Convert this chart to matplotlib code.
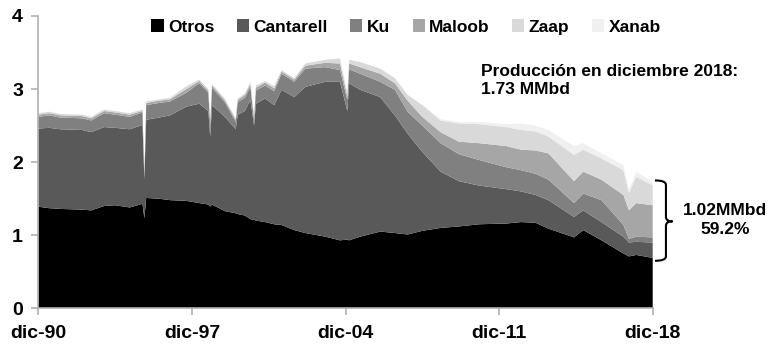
"""
Producción de petróleo por campo, dic-90 a dic-18 (MMbd)
"""

import matplotlib.pyplot as plt
from matplotlib.path import Path
from matplotlib.patches import PathPatch

# ============================================================================
# DATOS (MMbd)
# ============================================================================

fechas = ['1990-12', '1991-06', '1991-12', '1992-12', '1993-05', '1993-12',
          '1994-06', '1995-02', '1995-09', '1995-10', '1995-11', '1996-06',
          '1996-12', '1997-09', '1998-04', '1998-09', '1998-10', '1998-11',
          '1999-06', '1999-12', '2000-01', '2000-05', '2000-08', '2000-10',
          '2000-11', '2001-04', '2001-09', '2002-01', '2002-08', '2003-02',
          '2004-01', '2004-09', '2005-01', '2005-02', '2005-08', '2006-07',
          '2007-03', '2007-10', '2008-06', '2009-04', '2010-02', '2011-01',
          '2012-04', '2012-12', '2013-08', '2014-03', '2015-05', '2015-10',
          '2016-08', '2017-08', '2017-11', '2018-03', '2018-12']

otros = [1.39, 1.37, 1.36, 1.35, 1.34, 1.40, 1.41, 1.38, 1.43, 1.23, 1.51, 1.50,
         1.48, 1.47, 1.44, 1.42, 1.39, 1.42, 1.33, 1.30, 1.29, 1.27, 1.22, 1.21,
         1.20, 1.18, 1.15, 1.14, 1.07, 1.03, 0.98, 0.93, 0.94, 0.93, 0.98, 1.05,
         1.03, 1.01, 1.06, 1.10, 1.12, 1.15, 1.16, 1.18, 1.17, 1.09, 0.97, 1.07,
         0.93, 0.75, 0.71, 0.73, 0.69]

cantarell = [1.07, 1.10, 1.09, 1.09, 1.07, 1.08, 1.06, 1.07, 1.08, 0.54, 1.07, 1.11,
             1.16, 1.29, 1.36, 1.28, 0.96, 1.36, 1.29, 1.15, 1.36, 1.43, 1.63, 1.29,
             1.60, 1.69, 1.63, 1.85, 1.82, 2.00, 2.12, 2.17, 1.76, 2.15, 2.01, 1.84,
             1.61, 1.38, 1.08, 0.77, 0.62, 0.53, 0.47, 0.42, 0.38, 0.39, 0.28, 0.27,
             0.25, 0.23, 0.19, 0.18, 0.21]

ku = [0.16, 0.17, 0.16, 0.16, 0.16, 0.19, 0.18, 0.17, 0.17, 0.02, 0.20, 0.20,
      0.19, 0.19, 0.28, 0.25, 0.14, 0.24, 0.20, 0.10, 0.17, 0.18, 0.18, 0.07,
      0.18, 0.18, 0.19, 0.22, 0.21, 0.25, 0.20, 0.16, 0.15, 0.19, 0.22, 0.21,
      0.35, 0.30, 0.36, 0.39, 0.37, 0.35, 0.30, 0.29, 0.29, 0.28, 0.19, 0.23,
      0.30, 0.16, 0.05, 0.07, 0.07]

maloob = [0.03, 0.03, 0.03, 0.03, 0.03, 0.03, 0.03, 0.03, 0.02, 0.01, 0.03, 0.03,
          0.03, 0.05, 0.03, 0.03, 0.03, 0.03, 0.03, 0.03, 0.03, 0.04, 0.04, 0.03,
          0.04, 0.04, 0.04, 0.03, 0.03, 0.04, 0.06, 0.09, 0.05, 0.08, 0.09, 0.11,
          0.09, 0.15, 0.12, 0.15, 0.17, 0.23, 0.29, 0.28, 0.32, 0.36, 0.30, 0.30,
          0.28, 0.41, 0.39, 0.46, 0.44]

zaap = [0.02, 0.02, 0.02, 0.02, 0.02, 0.02, 0.02, 0.02, 0.02, 0.02, 0.02, 0.02,
        0.02, 0.04, 0.02, 0.02, 0.03, 0.02, 0.02, 0.02, 0.02, 0.02, 0.03, 0.02,
        0.03, 0.02, 0.03, 0.02, 0.02, 0.03, 0.04, 0.07, 0.04, 0.05, 0.07, 0.07,
        0.07, 0.08, 0.16, 0.16, 0.25, 0.26, 0.26, 0.27, 0.26, 0.23, 0.36, 0.30,
        0.29, 0.34, 0.24, 0.36, 0.27]

xanab = [0.00, 0.00, 0.00, 0.00, 0.00, 0.00, 0.00, 0.00, 0.00, 0.00, 0.00, 0.00,
         0.00, 0.00, 0.00, 0.00, 0.00, 0.00, 0.00, 0.00, 0.00, 0.00, 0.00, 0.00,
         0.00, 0.00, 0.00, 0.00, 0.00, 0.00, 0.00, 0.00, 0.00, 0.00, 0.00, 0.00,
         0.00, 0.00, 0.01, 0.02, 0.02, 0.03, 0.04, 0.09, 0.08, 0.09, 0.12, 0.09,
         0.07, 0.07, 0.04, 0.07, 0.05]

campos = ['Otros', 'Cantarell', 'Ku', 'Maloob', 'Zaap', 'Xanab']
colores = ['#000000', '#595959', '#808080', '#a6a6a6', '#d9d9d9', '#f0f0f0']

etiquetas_x = ['dic-90', 'dic-97', 'dic-04', 'dic-11', 'dic-18']
fechas_x = ['1990-12', '1997-12', '2004-12', '2011-12', '2018-12']


def a_anio(fecha):
    """Convierte 'YYYY-MM' en año decimal."""
    anio, mes = fecha.split('-')
    return int(anio) + (int(mes) - 1) / 12


# ============================================================================
# GRÁFICO
# ============================================================================

plt.rcParams['font.family'] = ['Liberation Sans Narrow', 'Liberation Sans', 'DejaVu Sans']
plt.rcParams['font.weight'] = 'bold'

x = [a_anio(f) for f in fechas]
x_ticks = [a_anio(f) for f in fechas_x]

fig = plt.figure(figsize=(7.68, 3.47), dpi=100)
ax = fig.add_axes([38.3 / 768, 1 - 308.3 / 347, (652.7 - 38.3) / 768, (308.3 - 16) / 347])

polys = ax.stackplot(x, otros, cantarell, ku, maloob, zaap, xanab,
                     colors=colores, labels=campos, linewidth=0)

ax.set_xlim(x_ticks[0], x_ticks[-1])
ax.set_ylim(0, 4)
ax.set_yticks([0, 1, 2, 3, 4])
ax.set_xticks(x_ticks)
ax.set_xticklabels(etiquetas_x)

for lado in ['top', 'right']:
    ax.spines[lado].set_visible(False)
for lado in ['left', 'bottom']:
    ax.spines[lado].set_color('#b0b0b0')
    ax.spines[lado].set_linewidth(1.2)

ax.tick_params(axis='both', colors='#b0b0b0', labelcolor='black', labelsize=14,
               length=5, width=1.2)
ax.tick_params(axis='x', pad=7)
ax.tick_params(axis='y', pad=6)

# Leyenda
fig.legend(handles=polys, labels=campos, loc='center', bbox_to_anchor=(406 / 768, 1 - 27 / 347),
           ncol=6, frameon=False, fontsize=12.5, handlelength=0.7, handleheight=0.7,
           handletextpad=0.25, columnspacing=1.3)

# Anotaciones
fig.text(481 / 768, 1 - 81 / 347, 'Producción en diciembre 2018:\n1.73 MMbd',
         ha='left', va='center', fontsize=12.5, linespacing=1.25)
fig.text(725 / 768, 1 - 220 / 347, '1.02MMbd\n59.2%',
         ha='center', va='center', fontsize=12.5, linespacing=1.3, multialignment='center')

# Llave
x0, x1, x2 = 2019.02, 2019.52, 2019.82
y_sup, y_med, y_inf, r = 1.75, 1.19, 0.65, 0.06
verts = [(x0, y_sup), (x1, y_sup), (x1, y_sup - r), (x1, y_med + r),
         (x1, y_med), (x2, y_med), (x1, y_med), (x1, y_med - r),
         (x1, y_inf + r), (x1, y_inf), (x0, y_inf)]
codes = [Path.MOVETO, Path.CURVE3, Path.CURVE3, Path.LINETO,
         Path.CURVE3, Path.CURVE3, Path.CURVE3, Path.CURVE3,
         Path.LINETO, Path.CURVE3, Path.CURVE3]
ax.add_patch(PathPatch(Path(verts, codes), fill=False, lw=1.5, color='black', clip_on=False))

plt.savefig('out.png', dpi=100)
plt.close()
